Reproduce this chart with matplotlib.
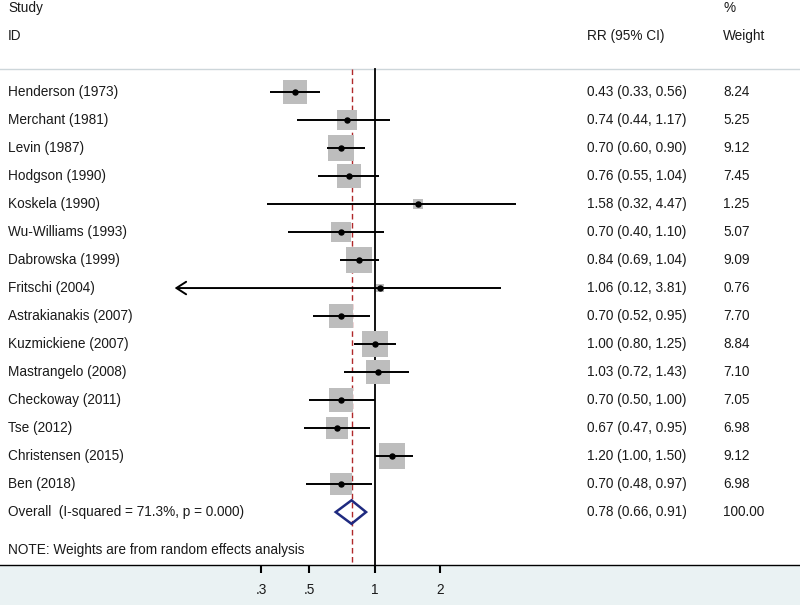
import matplotlib
matplotlib.use("Agg")
import matplotlib.pyplot as plt
import matplotlib.transforms as mtransforms
from matplotlib.patches import Polygon

plt.rcParams['font.family'] = ['Liberation Sans', 'DejaVu Sans']

studies = ["Henderson (1973)", "Merchant (1981)", "Levin (1987)", "Hodgson (1990)",
           "Koskela (1990)", "Wu-Williams (1993)", "Dabrowska (1999)", "Fritschi (2004)",
           "Astrakianakis (2007)", "Kuzmickiene (2007)", "Mastrangelo (2008)",
           "Checkoway (2011)", "Tse (2012)", "Christensen (2015)", "Ben (2018)"]
rr = [0.43, 0.74, 0.70, 0.76, 1.58, 0.70, 0.84, 1.06, 0.70, 1.00, 1.03, 0.70, 0.67, 1.20, 0.70]
lo = [0.33, 0.44, 0.60, 0.55, 0.32, 0.40, 0.69, 0.12, 0.52, 0.80, 0.72, 0.50, 0.47, 1.00, 0.48]
hi = [0.56, 1.17, 0.90, 1.04, 4.47, 1.10, 1.04, 3.81, 0.95, 1.25, 1.43, 1.00, 0.95, 1.50, 0.97]
weights = [8.24, 5.25, 9.12, 7.45, 1.25, 5.07, 9.09, 0.76, 7.70, 8.84, 7.10, 7.05, 6.98, 9.12, 6.98]
overall_rr, overall_lo, overall_hi = 0.78, 0.66, 0.91
overall_label = "Overall  (I-squared = 71.3%, p = 0.000)"
overall_weight = "100.00"
xticks = [0.3, 0.5, 1, 2]
xticklabels = [".3", ".5", "1", "2"]

FS = 9.8
TXT = "#1a1a1a"

fig = plt.figure(figsize=(8.0, 6.05), dpi=100)
fig.patch.set_facecolor("#EAF2F3")
ax = fig.add_axes([0, 40/605, 1, 565/605])
ax.set_facecolor("white")
ax.set_xscale("log")
ax.set_xlim(0.01891, 89.8)
ax.set_ylim(16.89, -3.286)

for s in ["top", "left", "right"]:
    ax.spines[s].set_visible(False)
ax.spines["bottom"].set_color("black")
ax.spines["bottom"].set_linewidth(1.0)
ax.set_yticks([])
ax.set_xticks(xticks)
ax.set_xticklabels(xticklabels, fontsize=FS, color=TXT)
ax.xaxis.set_minor_locator(matplotlib.ticker.NullLocator())
ax.tick_params(axis="x", direction="out", length=6, width=1.5, pad=7)

trans = mtransforms.blended_transform_factory(ax.transAxes, ax.transData)

top_line = -0.82
ax.plot([0, 1], [top_line, top_line], transform=trans, color="#CDD6DA", lw=1.0, clip_on=False)

# reference lines
ax.plot([1, 1], [top_line, 16.89], color="black", lw=1.3, zorder=2)
ax.plot([overall_rr, overall_rr], [top_line, 16.89], color="#B0282A", lw=1.0,
        dashes=(4, 2.5), zorder=2)

# header
ax.text(0.01, -3, "Study", transform=trans, fontsize=FS, color=TXT, va="center")
ax.text(0.01, -2, "ID", transform=trans, fontsize=FS, color=TXT, va="center")
ax.text(0.734, -2, "RR (95% CI)", transform=trans, fontsize=FS, color=TXT, va="center")
ax.text(0.904, -3, "%", transform=trans, fontsize=FS, color=TXT, va="center")
ax.text(0.904, -2, "Weight", transform=trans, fontsize=FS, color=TXT, va="center")

for i, (name, r, l, h, w) in enumerate(zip(studies, rr, lo, hi, weights)):
    ax.scatter([r], [i], marker="s", s=39.2 * w, color="#BDBDBD", zorder=3, linewidths=0)
    if name.startswith("Fritschi"):
        ax.plot([r, h], [i, i], color="black", lw=1.4, zorder=4, solid_capstyle="butt")
        ax.annotate("", xy=(l, i), xytext=(r, i),
                    arrowprops=dict(arrowstyle="->,head_length=0.7,head_width=0.45",
                                    color="black", lw=1.4, shrinkA=0, shrinkB=0),
                    zorder=4)
    else:
        ax.plot([l, h], [i, i], color="black", lw=1.4, zorder=4, solid_capstyle="butt")
    ax.plot([r], [i], "o", color="black", ms=3.6, zorder=5)
    ax.text(0.01, i, name, transform=trans, fontsize=FS, color=TXT, va="center")
    ax.text(0.734, i, f"{r:.2f} ({l:.2f}, {h:.2f})", transform=trans, fontsize=FS,
            color=TXT, va="center")
    ax.text(0.904, i, f"{w:.2f}", transform=trans, fontsize=FS, color=TXT, va="center")

yo = len(studies)
dh = 0.42
diamond = Polygon([(overall_lo, yo), (overall_rr, yo - dh), (overall_hi, yo), (overall_rr, yo + dh)],
                  closed=True, facecolor="none", edgecolor="#1F2A80", lw=1.8, zorder=5)
ax.add_patch(diamond)
ax.text(0.01, yo, overall_label, transform=trans, fontsize=FS, color=TXT, va="center")
ax.text(0.734, yo, f"{overall_rr:.2f} ({overall_lo:.2f}, {overall_hi:.2f})", transform=trans,
        fontsize=FS, color=TXT, va="center")
ax.text(0.904, yo, overall_weight, transform=trans, fontsize=FS, color=TXT, va="center")

ax.text(0.01, yo + 1.35, "NOTE: Weights are from random effects analysis", transform=trans,
        fontsize=FS, color=TXT, va="center")

fig.savefig("out.png", dpi=100, facecolor=fig.get_facecolor())
